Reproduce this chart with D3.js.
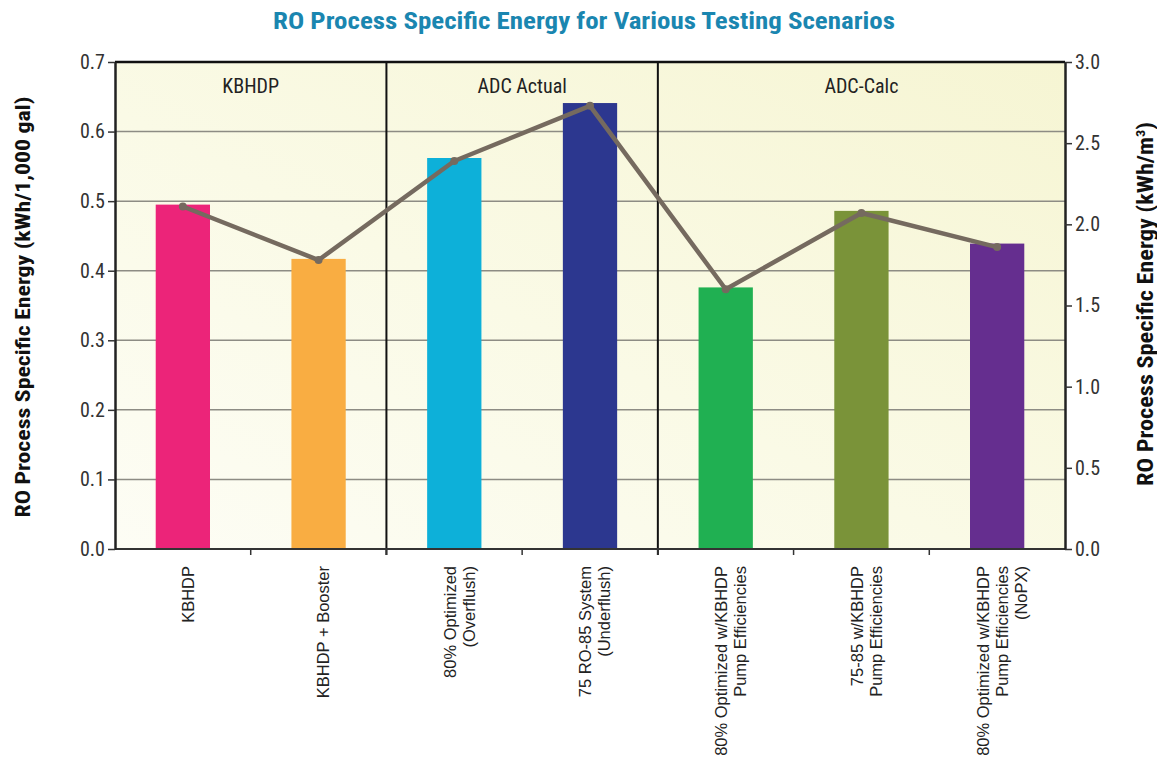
<!DOCTYPE html>
<html><head><meta charset="utf-8">
<script src="https://cdn.jsdelivr.net/npm/d3@7"></script>
<style>
body{margin:0;background:#fff;}
svg{display:block;}
</style></head>
<body>
<svg id="chart" width="1157" height="761"></svg>
<script>
const categories = ["KBHDP","KBHDP + Booster","80% Optimized (Overflush)","75 RO-85 System (Underflush)","80% Optimized w/KBHDP Pump Efficiencies","75-85 w/KBHDP Pump Efficiencies","80% Optimized w/KBHDP Pump Efficiencies (NoPX)"];
const categoryLines = [["KBHDP"],["KBHDP + Booster"],["80% Optimized","(Overflush)"],["75 RO-85 System","(Underflush)"],["80% Optimized w/KBHDP","Pump Efficiencies"],["75-85 w/KBHDP","Pump Efficiencies"],["80% Optimized w/KBHDP","Pump Efficiencies","(NoPX)"]];
const barValues = [0.495, 0.417, 0.562, 0.641, 0.376, 0.486, 0.439];   // kWh/1,000 gal
const lineValues = [2.11, 1.78, 2.39, 2.73, 1.60, 2.07, 1.86];          // kWh/m3
const barColors = ["#ec2479","#f9ad42","#0db0d9","#2c378f","#20b052","#7a9339","#652e8f"];
const groups = ["KBHDP","ADC Actual","ADC-Calc"];
const groupMembers = [[0,1],[2,3],[4,5,6]];
const leftTicks = [0,0.1,0.2,0.3,0.4,0.5,0.6,0.7];
const rightTicks = [0,0.5,1.0,1.5,2.0,2.5,3.0];

const svg = d3.select("#chart");
const m = {l:115, r:1065, t:62, b:549};
const narrow = "'Liberation Sans Narrow','Arial Narrow','Roboto Condensed',sans-serif";

const x = d3.scaleBand().domain(categories).range([m.l, m.r]).paddingInner(0.6).paddingOuter(0.3);
const step = x.step();
const yL = d3.scaleLinear().domain([0,0.7]).range([m.b, m.t]);
const yR = d3.scaleLinear().domain([0,3.0]).range([m.b, m.t]);

// background gradient
const defs = svg.append("defs");
const g = defs.append("linearGradient").attr("id","bg").attr("x1","0").attr("y1","1").attr("x2","1").attr("y2","0");
g.append("stop").attr("offset","0").attr("stop-color","#fdfdf5");
g.append("stop").attr("offset","0.45").attr("stop-color","#fafae6");
g.append("stop").attr("offset","1").attr("stop-color","#f6f5d3");
svg.append("rect").attr("x",m.l).attr("y",m.t).attr("width",m.r-m.l).attr("height",m.b-m.t).attr("fill","url(#bg)");

// gridlines
svg.append("g").selectAll("line").data(leftTicks.filter(d=>d>0 && d<0.7)).join("line")
  .attr("x1",m.l).attr("x2",m.r).attr("y1",d=>yL(d)).attr("y2",d=>yL(d))
  .attr("stroke","#8d8c84").attr("stroke-width",1.5);

// bars
svg.append("g").selectAll("rect").data(barValues).join("rect")
  .attr("x",(d,i)=>x(categories[i])).attr("width",x.bandwidth())
  .attr("y",d=>yL(d)).attr("height",d=>m.b-yL(d))
  .attr("fill",(d,i)=>barColors[i]);

// group separators
const sepIdx = groupMembers.slice(1).map(gm=>gm[0]);
svg.append("g").selectAll("line").data(sepIdx).join("line")
  .attr("x1",i=>m.l+step*i).attr("x2",i=>m.l+step*i)
  .attr("y1",m.t).attr("y2",m.b+6).attr("stroke","#111").attr("stroke-width",2);

// bottom ticks at category boundaries
svg.append("g").selectAll("line").data(d3.range(1,categories.length)).join("line")
  .attr("x1",i=>m.l+step*i).attr("x2",i=>m.l+step*i)
  .attr("y1",m.b).attr("y2",m.b+6).attr("stroke","#333").attr("stroke-width",1.5);

// frame top / bottom
svg.append("line").attr("x1",m.l).attr("x2",m.r).attr("y1",m.t).attr("y2",m.t).attr("stroke","#111").attr("stroke-width",2.5);
svg.append("line").attr("x1",m.l).attr("x2",m.r+1).attr("y1",m.b).attr("y2",m.b).attr("stroke","#333").attr("stroke-width",2);

// axes
const axL = svg.append("g").attr("transform",`translate(${m.l},0)`)
  .call(d3.axisLeft(yL).tickValues(leftTicks).tickFormat(d3.format(".1f")).tickSize(7).tickSizeOuter(0));
const axR = svg.append("g").attr("transform",`translate(${m.r},0)`)
  .call(d3.axisRight(yR).tickValues(rightTicks).tickFormat(d3.format(".1f")).tickSize(7).tickSizeOuter(0));
[axL,axR].forEach(a=>{
  a.select(".domain").attr("stroke","#222").attr("stroke-width",2.5);
  a.selectAll(".tick line").attr("stroke","#333").attr("stroke-width",1.5);
  a.selectAll(".tick text").attr("font-family",narrow).attr("font-size",20).attr("fill","#333");
});
axL.selectAll(".tick text").attr("x",-10);
axR.selectAll(".tick text").attr("x",10);

// line series
const line = d3.line().x((d,i)=>x(categories[i])+x.bandwidth()/2).y(d=>yR(d));
svg.append("path").datum(lineValues).attr("d",line).attr("fill","none")
  .attr("stroke","#756a5f").attr("stroke-width",4.5).attr("stroke-linejoin","round");
svg.append("g").selectAll("circle").data(lineValues).join("circle")
  .attr("cx",(d,i)=>x(categories[i])+x.bandwidth()/2).attr("cy",d=>yR(d)).attr("r",4).attr("fill","#756a5f");

// group labels
svg.append("g").selectAll("text").data(groups).join("text")
  .attr("x",(d,i)=>{const gm=groupMembers[i]; return (x(categories[gm[0]])+x(categories[gm[gm.length-1]])+x.bandwidth())/2;})
  .attr("y",93).attr("text-anchor","middle")
  .attr("font-family",narrow).attr("font-size",20).attr("fill","#222").text(d=>d);

// x labels (rotated, end-aligned at top)
const xl = svg.append("g");
categories.forEach((c,i)=>{
  const lines = categoryLines[i];
  const cx = x(c)+x.bandwidth()/2 + 5;
  const lh = 19;
  lines.forEach((t,j)=>{
    const off = (j-(lines.length-1)/2)*lh;
    xl.append("text").attr("transform",`translate(${cx+off},566) rotate(-90)`)
      .attr("text-anchor","end").attr("dy","0.35em")
      .attr("font-family","'Liberation Sans',Arial,sans-serif").attr("font-size",16.5).attr("fill","#222").text(t);
  });
});

// title
svg.append("text").attr("x",584).attr("y",29).attr("text-anchor","middle")
  .attr("font-family",narrow).attr("font-weight","bold").attr("font-size",24).attr("fill","#1a86b0")
  .attr("textLength",622).attr("lengthAdjust","spacingAndGlyphs")
  .text("RO Process Specific Energy for Various Testing Scenarios");

// y titles
svg.append("text").attr("transform","translate(30,307) rotate(-90)").attr("text-anchor","middle")
  .attr("font-family",narrow).attr("font-weight","bold").attr("font-size",21).attr("fill","#111")
  .attr("textLength",421).attr("lengthAdjust","spacingAndGlyphs")
  .text("RO Process Specific Energy (kWh/1,000 gal)");
const rt = svg.append("text").attr("transform","translate(1153,304) rotate(-90)").attr("text-anchor","middle")
  .attr("font-family",narrow).attr("font-weight","bold").attr("font-size",22).attr("fill","#111")
  .attr("textLength",364).attr("lengthAdjust","spacingAndGlyphs");
rt.append("tspan").text("RO Process Specific Energy (kWh/m");
rt.append("tspan").attr("font-size",13).attr("dy",-8).text("3");
rt.append("tspan").attr("dy",8).text(")");
</script>
</body></html>
